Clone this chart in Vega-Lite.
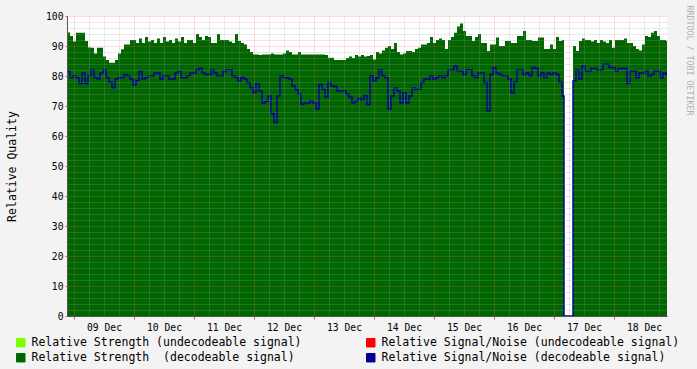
{
 "$schema": "https://vega.github.io/schema/vega-lite/v6.json",
 "width": 600, "height": 300,
 "autosize": {"type": "none"},
 "padding": {"left": 67, "top": 16, "right": 30, "bottom": 53},
 "background": "#f3f3f3",
 "config": {"view": {"fill": "white", "stroke": null}, "font": "DejaVu Sans Mono"},
 "data": {"values": [
{"h":-2.8,"s":94.5,"n":81.5},{"h":-1.6,"s":93.3,"n":79.5},{"h":-0.4,"s":91.5,"n":80},{"h":0.8,"s":94.4,"n":79.5},{"h":2.0,"s":94.4,"n":77.5},{"h":3.2,"s":94.4,"n":81},{"h":4.4,"s":91.7,"n":77.5},{"h":5.6,"s":89.5,"n":80},{"h":6.8,"s":89.4,"n":82},{"h":8.0,"s":87.5,"n":79.5},
{"h":9.2,"s":89.4,"n":79},{"h":10.4,"s":89.4,"n":81},{"h":11.6,"s":86.5,"n":82},{"h":12.8,"s":85.3,"n":79.5},{"h":14.0,"s":84.4,"n":78},{"h":15.2,"s":84.4,"n":76},{"h":16.4,"s":85.3,"n":79},{"h":17.6,"s":87.5,"n":79.5},{"h":18.8,"s":88.9,"n":79.5},{"h":20.0,"s":90.5,"n":80.5},
{"h":21.2,"s":90.5,"n":80},{"h":22.4,"s":92,"n":79},{"h":23.6,"s":92,"n":77},{"h":24.8,"s":91,"n":78.5},{"h":26.0,"s":92.5,"n":81.5},{"h":27.2,"s":91,"n":79},{"h":28.4,"s":93,"n":79.5},{"h":29.6,"s":91.5,"n":80},{"h":30.8,"s":92,"n":80},{"h":32.0,"s":91,"n":81},
{"h":33.2,"s":92.5,"n":81},{"h":34.4,"s":91,"n":79},{"h":35.6,"s":93,"n":80},{"h":36.8,"s":91.5,"n":80},{"h":38.0,"s":92,"n":79},{"h":39.2,"s":91,"n":79},{"h":40.4,"s":92.5,"n":81},{"h":41.6,"s":91.5,"n":81.5},{"h":42.8,"s":93,"n":79.5},{"h":44.0,"s":91,"n":79.5},
{"h":45.2,"s":92,"n":80},{"h":46.4,"s":92,"n":81},{"h":47.6,"s":91,"n":81},{"h":48.8,"s":94,"n":82},{"h":50.0,"s":93,"n":82.5},{"h":51.2,"s":92,"n":81},{"h":52.4,"s":93.3,"n":80.5},{"h":53.6,"s":93,"n":80.5},{"h":54.8,"s":91,"n":82},{"h":56.0,"s":91,"n":81},
{"h":57.2,"s":94,"n":80},{"h":58.4,"s":92,"n":80},{"h":59.6,"s":92,"n":81.5},{"h":60.8,"s":92,"n":82},{"h":62.0,"s":91.5,"n":82},{"h":63.2,"s":91,"n":80},{"h":64.4,"s":94,"n":79.5},{"h":65.6,"s":91.7,"n":78.3},{"h":66.8,"s":91,"n":79.5},{"h":68.0,"s":90.5,"n":79},
{"h":69.2,"s":89,"n":77.8},{"h":70.4,"s":88,"n":76},{"h":71.6,"s":87.2,"n":74.5},{"h":72.8,"s":87.2,"n":77.5},{"h":74.0,"s":87,"n":75},{"h":75.2,"s":87.2,"n":71},{"h":76.4,"s":87.2,"n":71.5},{"h":77.6,"s":87.2,"n":73.3},{"h":78.8,"s":87.5,"n":67.5},{"h":80.0,"s":87.2,"n":64.5},
{"h":81.2,"s":87.2,"n":73.3},{"h":82.4,"s":87.2,"n":80},{"h":83.6,"s":87.5,"n":79.5},{"h":84.8,"s":88.5,"n":79.4},{"h":86.0,"s":88,"n":79},{"h":87.2,"s":87.2,"n":76.7},{"h":88.4,"s":87.2,"n":75.5},{"h":89.6,"s":88,"n":74},{"h":90.8,"s":87.2,"n":70.6},{"h":92.0,"s":87.2,"n":71},
{"h":93.2,"s":87.2,"n":71},{"h":94.4,"s":87.2,"n":71.7},{"h":95.6,"s":87.2,"n":71},{"h":96.8,"s":87.2,"n":69},{"h":98.0,"s":87.2,"n":77.2},{"h":99.2,"s":87.2,"n":75.6},{"h":100.4,"s":87,"n":73},{"h":101.6,"s":86.1,"n":77.8},{"h":102.8,"s":86.1,"n":76.7},{"h":104.0,"s":85.3,"n":76.5},
{"h":105.2,"s":85.3,"n":75},{"h":106.4,"s":85.3,"n":75},{"h":107.6,"s":85.3,"n":75},{"h":108.8,"s":86,"n":74},{"h":110.0,"s":86.5,"n":73},{"h":111.2,"s":86,"n":71},{"h":112.4,"s":87,"n":71.7},{"h":113.6,"s":86.5,"n":72.5},{"h":114.8,"s":87,"n":72},{"h":116.0,"s":86.5,"n":73.5},
{"h":117.2,"s":86.7,"n":70.5},{"h":118.4,"s":87,"n":80},{"h":119.6,"s":85.5,"n":78.3},{"h":120.8,"s":88,"n":79.4},{"h":122.0,"s":87.5,"n":82},{"h":123.2,"s":88.5,"n":80},{"h":124.4,"s":89.4,"n":79.4},{"h":125.6,"s":90,"n":69},{"h":126.8,"s":89,"n":73.3},{"h":128.0,"s":91,"n":76},
{"h":129.2,"s":88,"n":75},{"h":130.4,"s":87.2,"n":71},{"h":131.6,"s":87.5,"n":74.4},{"h":132.8,"s":88.3,"n":71},{"h":134.0,"s":88.3,"n":73.3},{"h":135.2,"s":88,"n":76},{"h":136.4,"s":89,"n":75.6},{"h":137.6,"s":89.4,"n":75.6},{"h":138.8,"s":90.5,"n":77.8},{"h":140.0,"s":90.5,"n":79},
{"h":141.2,"s":91,"n":79},{"h":142.4,"s":93,"n":80},{"h":143.6,"s":91,"n":79},{"h":144.8,"s":92,"n":79.5},{"h":146.0,"s":92.5,"n":80},{"h":147.2,"s":92,"n":79.4},{"h":148.4,"s":89,"n":80},{"h":149.6,"s":92,"n":82},{"h":150.8,"s":93,"n":82},{"h":152.0,"s":94.4,"n":83.3},
{"h":153.2,"s":96.5,"n":81.7},{"h":154.4,"s":97.5,"n":81.7},{"h":155.6,"s":95,"n":80.5},{"h":156.8,"s":93.3,"n":82},{"h":158.0,"s":93.3,"n":82},{"h":159.2,"s":91.7,"n":80},{"h":160.4,"s":93,"n":79.5},{"h":161.6,"s":94,"n":81},{"h":162.8,"s":91,"n":81},{"h":164.0,"s":91,"n":77.8},
{"h":165.2,"s":88.3,"n":68.3},{"h":166.4,"s":90.5,"n":80.5},{"h":167.6,"s":90.5,"n":82.8},{"h":168.8,"s":92.8,"n":81},{"h":170.0,"s":90,"n":80.5},{"h":171.2,"s":90,"n":80},{"h":172.4,"s":91.7,"n":80},{"h":173.6,"s":91.7,"n":79},{"h":174.8,"s":91,"n":74.4},{"h":176.0,"s":91,"n":78},
{"h":177.2,"s":93.3,"n":82},{"h":178.4,"s":93.3,"n":82},{"h":179.6,"s":95,"n":80.5},{"h":180.8,"s":92,"n":81},{"h":182.0,"s":92,"n":80},{"h":183.2,"s":91.7,"n":82.8},{"h":184.4,"s":91.7,"n":82.5},{"h":185.6,"s":92.8,"n":80},{"h":186.8,"s":92.8,"n":81},{"h":188.0,"s":89,"n":79.5},
{"h":189.2,"s":89,"n":81},{"h":190.4,"s":90.5,"n":80.5},{"h":191.6,"s":89,"n":81},{"h":192.8,"s":93,"n":80.5},{"h":194.0,"s":91.7,"n":78},{"h":195.2,"s":92,"n":73.3},{"h":196.0,"s":0,"n":0},{"h":199.6,"s":90,"n":78.3},{"h":200.8,"s":88.3,"n":82},{"h":202.0,"s":91.7,"n":79},
{"h":203.2,"s":92.5,"n":83.3},{"h":204.4,"s":92,"n":81.7},{"h":205.6,"s":92,"n":81.7},{"h":206.8,"s":91.5,"n":82.5},{"h":208.0,"s":92,"n":82.5},{"h":209.2,"s":91,"n":82},{"h":210.4,"s":92,"n":82},{"h":211.6,"s":91.5,"n":83.9},{"h":212.8,"s":91,"n":83.9},{"h":214.0,"s":92,"n":82.8},
{"h":215.2,"s":89.4,"n":82.8},{"h":216.4,"s":92,"n":81.7},{"h":217.6,"s":92,"n":82.5},{"h":218.8,"s":92,"n":82.5},{"h":220.0,"s":92.5,"n":82.5},{"h":221.2,"s":91,"n":77.5},{"h":222.4,"s":91,"n":81.7},{"h":223.6,"s":90,"n":81.7},{"h":224.8,"s":89,"n":79.4},{"h":226.0,"s":88.5,"n":81},
{"h":227.2,"s":90.5,"n":81},{"h":228.4,"s":93.3,"n":81.7},{"h":229.6,"s":93,"n":80},{"h":230.8,"s":94.4,"n":80.5},{"h":232.0,"s":95,"n":81.7},{"h":233.2,"s":93.3,"n":81.7},{"h":234.4,"s":92,"n":79.4},{"h":235.6,"s":92,"n":81},{"h":236.8,"s":91.7,"n":80.5},{"h":237.2,"s":91.7,"n":80.5}
 ]},
 "layer": [
  {
   "mark": {"type": "area", "interpolate": "step-after"},
   "encoding": {
    "x": {"field": "h", "type": "quantitative",
     "scale": {"domain": [-2.8, 237.2], "nice": false, "zero": false},
     "axis": {"values": [0, 24, 48, 72, 96, 120, 144, 168, 192, 216],
      "labelExpr": "['09 Dec','10 Dec','11 Dec','12 Dec','13 Dec','14 Dec','15 Dec','16 Dec','17 Dec','18 Dec'][round(datum.value/24)]",
      "labelOffset": 30, "labelOverlap": false, "labelFlush": false,
      "grid": true, "gridColor": "#ff6060", "gridDash": [1, 1], "gridOpacity": 0.45,
      "ticks": true, "tickColor": "#e06060", "tickSize": 3,
      "domainColor": "#555", "labelFont": "DejaVu Sans Mono", "labelFontSize": 9.7, "labelColor": "#000",
      "labelPadding": 3, "title": null, "zindex": 2}},
    "y": {"field": "s", "type": "quantitative",
     "scale": {"domain": [0, 100], "nice": false},
     "axis": {"values": [0, 10, 20, 30, 40, 50, 60, 70, 80, 90, 100],
      "grid": true, "gridColor": "#ff6060", "gridDash": [1, 1], "gridOpacity": 0.45,
      "ticks": true, "tickColor": "#e06060", "tickSize": 2,
      "domainColor": "#555", "labelFont": "DejaVu Sans Mono", "labelFontSize": 9.7, "labelColor": "#000",
      "labelPadding": 2, "title": "Relative Quality", "titleFont": "DejaVu Sans Mono", "titleFontSize": 11.5,
      "titleFontWeight": "normal", "titleColor": "#000", "titlePadding": 28, "zindex": 2}},
    "color": {"datum": "Relative Strength \u00a0(decodeable signal)",
     "scale": {"domain": ["Relative Strength (undecodeable signal)", "Relative Signal/Noise (undecodeable signal)", "Relative Strength \u00a0(decodeable signal)", "Relative Signal/Noise (decodeable signal)"],
      "range": ["#80ff00", "#ff0000", "#006600", "#000099"]},
     "legend": {"orient": "none", "legendX": -52, "legendY": 321, "direction": "horizontal", "columns": 2,
      "columnPadding": 62, "rowPadding": 2, "symbolType": "square", "symbolSize": 72,
      "labelFont": "DejaVu Sans Mono", "labelFontSize": 11.5, "labelColor": "#000", "labelOffset": 5,
      "labelLimit": 500, "title": null,
      "encode": {"symbols": {"update": {"fill": {"scale": "color", "field": "value"}, "stroke": {"value": "#000"}, "strokeWidth": {"value": 1}, "opacity": {"value": 1}, "fillOpacity": {"value": 1}}}}}}
   }
  },
  {
   "mark": {"type": "line", "interpolate": "step-after", "strokeWidth": 1.5},
   "encoding": {
    "x": {"field": "h", "type": "quantitative",
     "axis": {"orient": "top", "values": [6, 12, 18, 30, 36, 42, 54, 60, 66, 78, 84, 90, 102, 108, 114, 126, 132, 138, 150, 156, 162, 174, 180, 186, 198, 204, 210, 222, 228, 234],
      "grid": true, "gridColor": "#a0a0a0", "gridDash": [1, 1], "gridOpacity": 0.45,
      "labels": false, "ticks": false, "domain": false, "title": null, "zindex": 1}},
    "y": {"field": "n", "type": "quantitative",
     "axis": {"orient": "right", "values": [2, 4, 6, 8, 12, 14, 16, 18, 22, 24, 26, 28, 32, 34, 36, 38, 42, 44, 46, 48, 52, 54, 56, 58, 62, 64, 66, 68, 72, 74, 76, 78, 82, 84, 86, 88, 92, 94, 96, 98],
      "grid": true, "gridColor": "#a0a0a0", "gridDash": [1, 1], "gridOpacity": 0.45,
      "labels": false, "ticks": false, "domain": false,
      "title": "RRDTOOL / TOBI OETIKER", "titleColor": "#b0b0b0", "titleFont": "DejaVu Sans Mono", "titleFontSize": 8.3,
      "titleFontWeight": "normal", "titleAngle": 90, "titleAlign": "left", "titleBaseline": "middle",
      "titleX": 21, "titleY": -11, "zindex": 1}},
    "color": {"datum": "Relative Signal/Noise (decodeable signal)"}
   }
  }
 ],
 "resolve": {"axis": {"x": "independent", "y": "independent"}}
}
